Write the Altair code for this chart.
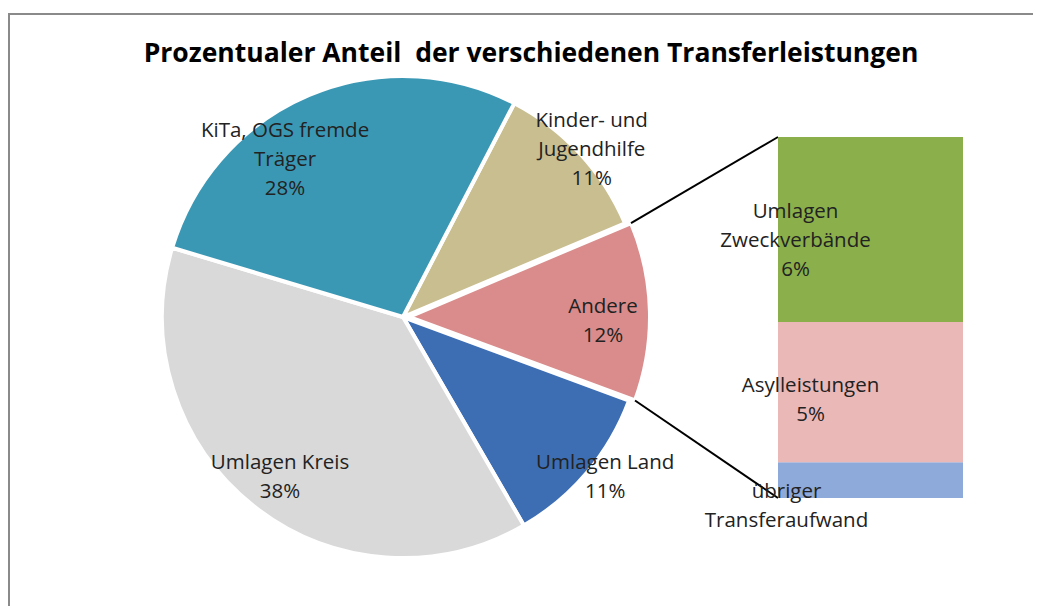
import altair as alt
import numpy as np
import pandas as pd

# ---------------- data ----------------
TITLE = "Prozentualer Anteil \u00a0der verschiedenen Transferleistungen"

pie_names = ["Kinder- und\nJugendhilfe", "Andere", "Umlagen Land", "Umlagen Kreis", "KiTa, OGS fremde\nTräger"]
pie_values = [11, 12, 11, 38, 28]

bar_names = ["übriger\nTransferaufwand", "Asylleistungen", "Umlagen\nZweckverbände"]
bar_values = [1.2, 4.7, 6.2]
bar_pct_text = ["", "5%", "6%"]

# ---------------- style / layout ----------------
pie_palette = ["#C8BE90", "#D98C8B", "#3D6EB4", "#D9D9D9", "#3B98B5"]
bar_palette = ["#8EAADB", "#EBB8B8", "#8BAF4A"]
pie_explode = [0, 6, 0, 0, 0]  # px each slice is pulled out along its middle
FONT = "Open Sans"
TXT = "#222222"
FS, LH = 20.5, 29
W, H = 1025, 598
CX, CY, R = 395, 309, 241
THETA0 = 27.5  # degrees, start of first slice (clockwise from 12 o'clock)
BX0, BX1, BY_TOP, BY_BOT = 770, 955, 129, 490
# label placement: (angle offset from slice mid in deg, radius px)
PIE_LABEL_POS = [(1.2, 252), (2.7, 200), (-1.7, 258), (-0.8, 202), (-14.1, 196)]
# bar label placement: (dx from bar centre px, dy from segment middle px)
BAR_LABEL_POS = [(-84, 26), (-60, 8), (-75, 12)]

# ---------------- frames ----------------
total = float(sum(pie_values))
cum = np.cumsum([0] + pie_values)
starts = THETA0 + 360 * cum[:-1] / total
mids = THETA0 + 360 * (cum[:-1] + np.array(pie_values) / 2) / total
mrad = np.deg2rad(mids)
ex = np.array(pie_explode, dtype=float)

pie_df = pd.DataFrame({
    "name": pie_names,
    "value": pie_values,
    "ord": range(len(pie_names)),
    "color": pie_palette,
    "cx": CX + ex * np.sin(mrad),
    "cy": CY - ex * np.cos(mrad),
})


def nlines(s):
    return s.count("\n") + 1


pie_text = [f"{n}\n{v}%" for n, v in zip(pie_names, pie_values)]
la = np.deg2rad(mids + np.array([p[0] for p in PIE_LABEL_POS]))
lr = np.array([p[1] for p in PIE_LABEL_POS])
pie_lab_df = pd.DataFrame({
    "text": pie_text,
    "lx": CX + lr * np.sin(la),
    "ly": CY - lr * np.cos(la) - np.array([(nlines(t) - 1) * LH / 2 for t in pie_text]),
})

bar_total = float(sum(bar_values))
bcum = np.cumsum([0] + bar_values)
px_per_unit = (BY_BOT - BY_TOP) / bar_total
bar_df = pd.DataFrame({
    "name": bar_names,
    "y0": bcum[:-1],
    "y1": bcum[1:],
    "color": bar_palette,
})
bar_text = [n + ("\n" + p if p else "") for n, p in zip(bar_names, bar_pct_text)]
bmid = (bcum[:-1] + bcum[1:]) / 2
bdy = np.array([p[1] for p in BAR_LABEL_POS]) - np.array([(nlines(t) - 1) * LH / 2 for t in bar_text])
bar_lab_df = pd.DataFrame({
    "text": bar_text,
    "lx": (BX0 + BX1) / 2 + np.array([p[0] for p in BAR_LABEL_POS]),
    "ly": bmid - bdy / px_per_unit,
})

# connector lines: from the "Andere" slice edges to the bar's corners
ia = pie_names.index("Andere")
acx, acy = pie_df["cx"][ia], pie_df["cy"][ia]
a_start = np.deg2rad(starts[ia])
a_end = np.deg2rad(starts[ia] + 360 * pie_values[ia] / total)
con_df = pd.DataFrame({
    "x": [acx + R * np.sin(a_start), acx + R * np.sin(a_end)],
    "y": [acy - R * np.cos(a_start), acy - R * np.cos(a_end)],
    "x2": [BX0, BX0],
    "y2": [BY_TOP, BY_BOT],
})

yscale = alt.Scale(domain=[0, bar_total], range=[BY_BOT, BY_TOP], nice=False, zero=False)

# ---------------- layers ----------------
frame_top = alt.Chart(pd.DataFrame({"a": [0]})).mark_rule(color="#8a8a8a", strokeWidth=2).encode(
    x=alt.value(1), x2=alt.value(W), y=alt.value(6))
frame_left = alt.Chart(pd.DataFrame({"a": [0]})).mark_rule(color="#8a8a8a", strokeWidth=2).encode(
    x=alt.value(1), y=alt.value(5), y2=alt.value(H))

title = alt.Chart(pd.DataFrame({"t": [TITLE]})).mark_text(
    font=FONT, fontSize=26.5, fontWeight="bold", color="#000000", align="center", baseline="alphabetic"
).encode(text="t:N", x=alt.value(523), y=alt.value(54))

pie = alt.Chart(pie_df).mark_arc(outerRadius=R, stroke="white", strokeWidth=4).encode(
    theta=alt.Theta("value:Q", stack=True, scale=alt.Scale(range=[np.deg2rad(THETA0), np.deg2rad(THETA0) + 2 * np.pi])),
    color=alt.Color("color:N", scale=None),
    order=alt.Order("ord:Q"),
    x=alt.X("cx:Q", scale=None), y=alt.Y("cy:Q", scale=None),
)

pie_labels = alt.Chart(pie_lab_df).mark_text(
    font=FONT, fontSize=FS, lineHeight=LH, color=TXT, align="center", baseline="middle", lineBreak="\n"
).encode(x=alt.X("lx:Q", scale=None), y=alt.Y("ly:Q", scale=None), text="text:N")

connectors = alt.Chart(con_df).mark_rule(color="#000000", strokeWidth=2).encode(
    x=alt.X("x:Q", scale=None), y=alt.Y("y:Q", scale=None),
    x2="x2:Q", y2="y2:Q")

bar = alt.Chart(bar_df).mark_bar().encode(
    x=alt.value(BX0), x2=alt.value(BX1),
    y=alt.Y("y0:Q", scale=yscale, axis=None), y2="y1:Q",
    color=alt.Color("color:N", scale=None),
)

bar_labels = alt.Chart(bar_lab_df).mark_text(
    font=FONT, fontSize=FS, lineHeight=LH, color=TXT, align="center", baseline="middle", lineBreak="\n"
).encode(x=alt.X("lx:Q", scale=None), y=alt.Y("ly:Q", scale=yscale, axis=None), text="text:N")

chart = alt.layer(
    frame_top, frame_left, title, pie, connectors, bar, pie_labels, bar_labels
).resolve_scale(x="independent", y="independent").properties(
    width=W, height=H, autosize=alt.AutoSizeParams(type="none"), padding=0, background="white"
).configure_view(stroke=None)

chart.save("out.html", embed_options={"renderer": "svg", "actions": False})
